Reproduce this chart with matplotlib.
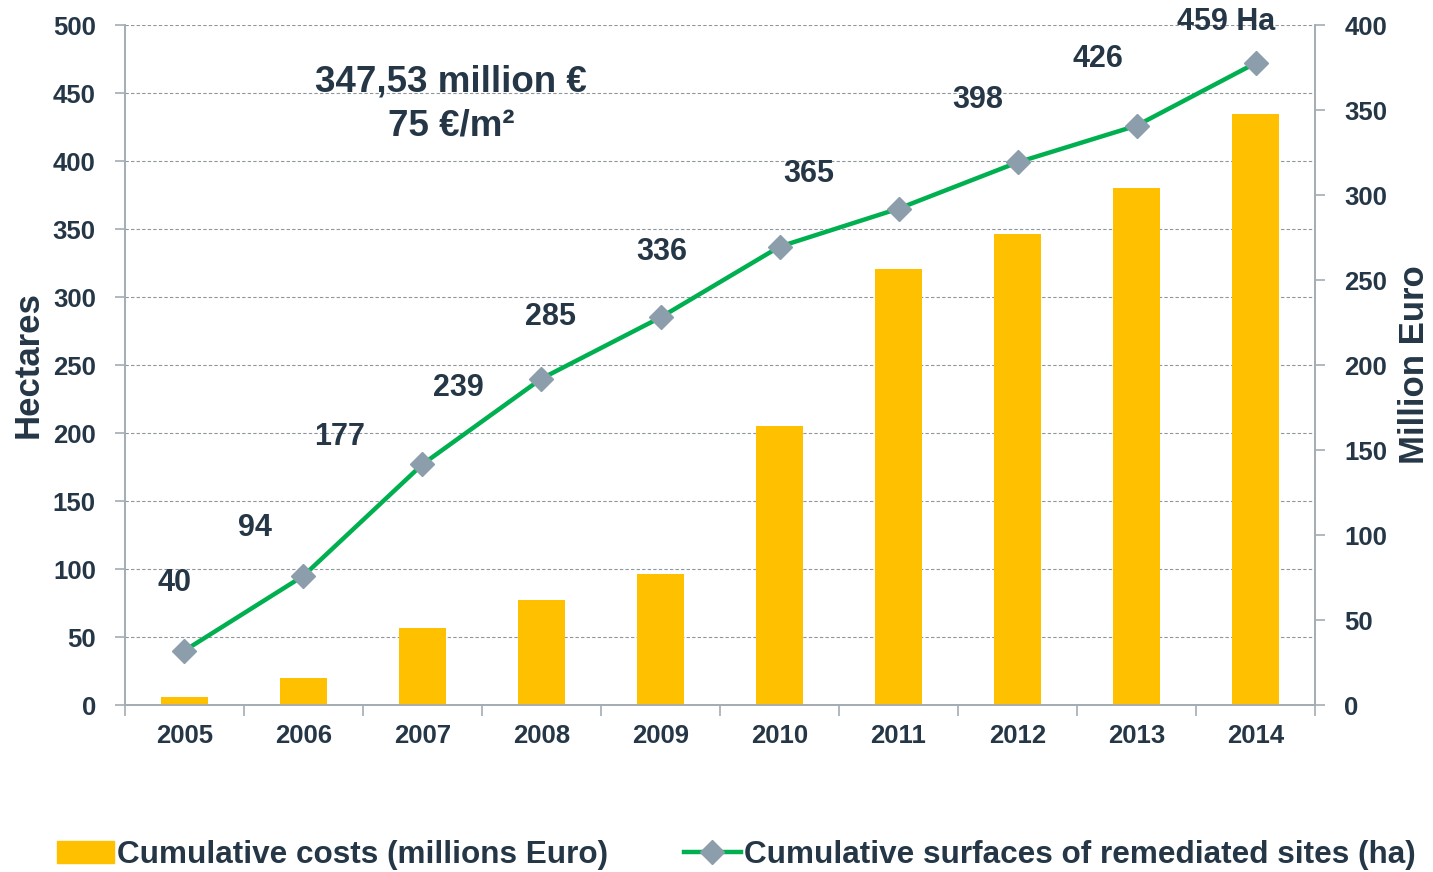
import matplotlib.pyplot as plt

plt.rcParams["font.family"] = ["Liberation Sans", "DejaVu Sans"]
plt.rcParams["font.weight"] = "bold"

years = ["2005", "2006", "2007", "2008", "2009", "2010", "2011", "2012", "2013", "2014"]
costs_meur = [4.7, 15.9, 45.3, 61.8, 77.0, 164.0, 256.5, 277.0, 304.0, 347.5]
hectares = [40, 95, 177, 240, 285, 337, 365, 399, 426, 472]
hectare_labels = ["40", "94", "177", "239", "285", "336", "365", "398", "426", "459 Ha"]
label_offsets = [(-10, 68), (-49, 48), (-83, 27), (-83, -9), (-110, 0),
                 (-118, -5), (-90, 35), (-40, 62), (-39, 67), (-29, 41)]

TEXT = "#253746"
SPINE = "#a3abb3"
BAR = "#FFC000"
LINE = "#00B050"
MARK = "#8C9DAB"

fig = plt.figure(figsize=(14.33, 8.72), dpi=100)
pos = [0.0872, 0.1915, 0.8305, 0.7798]
ax = fig.add_axes(pos)
axb = ax.twinx()
axl = fig.add_axes(pos, sharex=ax, sharey=ax)
axl.patch.set_visible(False)
axl.axis("off")

x = list(range(len(years)))

axb.bar(x, costs_meur, width=0.4, color=BAR, zorder=2)
axl.plot(x, hectares, color=LINE, lw=3.2, marker="D", ms=12,
         mfc=MARK, mec=MARK, zorder=3)

for xi, yi, lab, (dx, dy) in zip(x, hectares, hectare_labels, label_offsets):
    axl.annotate(lab, (xi, yi), xytext=(dx, dy), textcoords="offset pixels",
                 ha="center", va="center", fontsize=22, color=TEXT,
                 fontweight="bold", annotation_clip=False)

ax.text(2.24, 458, "347,53 million €", ha="center", va="center",
        fontsize=26.5, color=TEXT, fontweight="bold")
ax.text(2.24, 426, "75 €/m²", ha="center", va="center",
        fontsize=26.5, color=TEXT, fontweight="bold")

ax.set_xlim(-0.5, 9.5)
ax.set_ylim(0, 500)
ax.set_yticks(range(0, 501, 50))
axb.set_ylim(0, 400)
axb.set_yticks(range(0, 401, 50))

ax.set_xticks(x)
ax.set_xticklabels(years)
ax.set_xticks([i - 0.5 for i in range(len(years) + 1)], minor=True)
ax.tick_params(axis="x", which="major", length=0, pad=14, labelsize=18.5, labelcolor=TEXT)
ax.tick_params(axis="x", which="minor", length=8, color=SPINE, width=1.2)
ax.tick_params(axis="y", length=7, color=SPINE, width=1.2, labelsize=18.5,
               labelcolor=TEXT, pad=14)
axb.tick_params(axis="y", length=7, color=SPINE, width=1.2, labelsize=18.5,
                labelcolor=TEXT, pad=14)

ax.grid(axis="y", color="#8f959b", linestyle=(0, (3, 2)), lw=0.8)
ax.set_axisbelow(True)

for a in (ax, axb):
    a.spines["top"].set_visible(False)
    for s in ("left", "right", "bottom"):
        a.spines[s].set_color(SPINE)
        a.spines[s].set_linewidth(1.2)

ax.set_ylabel("Hectares", fontsize=25, color=TEXT, fontweight="bold", labelpad=6)
axb.set_ylabel("Million Euro", fontsize=25, color=TEXT, fontweight="bold", labelpad=8)

h_bar = plt.Rectangle((0, 0), 1, 1, color=BAR)
h_line = plt.Line2D([], [], color=LINE, lw=3.2, marker="D", ms=12, mfc=MARK, mec=MARK)
fig.legend([h_bar, h_line],
           ["Cumulative costs (millions Euro)", "Cumulative surfaces of remediated sites (ha)"],
           loc="center", bbox_to_anchor=(0.514, 0.019), ncol=2, frameon=False,
           fontsize=22.7, labelcolor=TEXT, handlelength=1.8, handletextpad=0.1,
           columnspacing=2.4)

fig.savefig("out.png", dpi=100)
